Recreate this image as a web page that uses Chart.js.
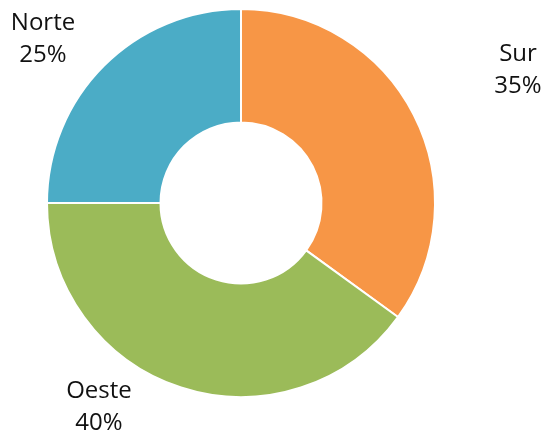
<!DOCTYPE html>
<html>
<head>
<meta charset="utf-8">
<script src="https://cdn.jsdelivr.net/npm/chart.js@4"></script>
<style>
  html, body { margin: 0; padding: 0; background: #fff; }
  #wrap { width: 550px; height: 431px; position: relative; }
</style>
</head>
<body>
<div id="wrap"><canvas id="c" width="550" height="431"></canvas></div>
<script>
const categories = ["Sur", "Oeste", "Norte"];
const values = [35, 40, 25];
const valueLabels = ["35%", "40%", "25%"];
const colors = ["#F79646", "#9BBB59", "#4BACC6"];

// label placement relative to chart center (layout, not data)
const labelOffsets = [
  { dx: 277, dy: -142.5 },
  { dx: -142, dy: 194.5 },
  { dx: -198, dy: -173.5 }
];

const outsideLabels = {
  id: 'outsideLabels',
  afterDraw(chart) {
    const ctx = chart.ctx;
    const meta = chart.getDatasetMeta(0);
    ctx.save();
    ctx.font = '24px "Open Sans", "Noto Sans", sans-serif';
    ctx.fillStyle = '#111';
    ctx.textAlign = 'center';
    ctx.textBaseline = 'alphabetic';
    meta.data.forEach((arc, i) => {
      const o = labelOffsets[i];
      const x = arc.x + o.dx, y = arc.y + o.dy;
      ctx.fillText(categories[i], x, y);
      ctx.fillText(valueLabels[i], x, y + 32);
    });
    ctx.restore();
  }
};

new Chart(document.getElementById('c'), {
  type: 'doughnut',
  data: {
    labels: categories,
    datasets: [{
      data: values,
      backgroundColor: colors,
      borderColor: '#ffffff',
      borderWidth: 2,
      hoverOffset: 0
    }]
  },
  options: {
    responsive: false,
    animation: false,
    cutout: '41.5%',
    layout: { padding: { left: 46, right: 114, top: 8, bottom: 33 } },
    plugins: { legend: { display: false }, tooltip: { enabled: false } }
  },
  plugins: [outsideLabels]
});
</script>
</body>
</html>
